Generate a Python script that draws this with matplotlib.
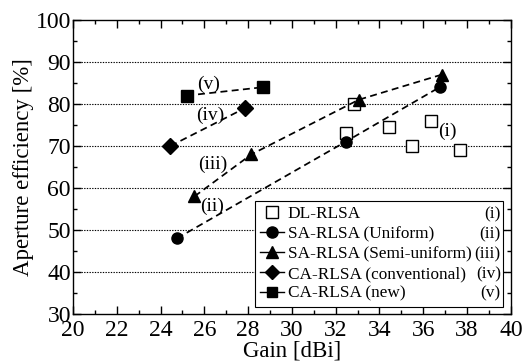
import matplotlib
matplotlib.use('Agg')
import matplotlib.pyplot as plt
from matplotlib.lines import Line2D
from matplotlib.ticker import MultipleLocator

plt.rcParams['font.family'] = ['Liberation Serif', 'DejaVu Serif']

# data
dl_gain = [32.45, 32.85, 34.45, 35.5, 36.35, 37.7]
dl_eff = [73, 80, 74.5, 70, 76, 69]
sau_gain = [24.75, 32.45, 36.75]
sau_eff = [48, 71, 84]
sas_gain = [25.55, 28.15, 33.05, 36.85]
sas_eff = [58, 68, 81, 87]
cac_gain = [24.45, 27.85]
cac_eff = [70, 79]
can_gain = [25.2, 28.7]
can_eff = [82, 84]

names = ['DL-RLSA', 'SA-RLSA (Uniform)', 'SA-RLSA (Semi-uniform)',
         'CA-RLSA (conventional)', 'CA-RLSA (new)']
numerals = ['(i)', '(ii)', '(iii)', '(iv)', '(v)']

fig = plt.figure(figsize=(5.25, 3.63), dpi=100)
ax = fig.add_axes([0.139, 0.135, 0.834, 0.81])

for y in range(40, 100, 10):
    ax.axhline(y, color='black', ls=(0, (1.2, 1.2)), lw=0.8, zorder=1)

dash = (0, (4, 2.5))
ax.plot(dl_gain, dl_eff, 's', ms=8, mfc='white', mec='black', mew=1.0, zorder=3)
ax.plot(sau_gain, sau_eff, ls=dash, color='black', lw=1.25, marker='o', ms=8, zorder=3)
ax.plot(sas_gain, sas_eff, ls=dash, color='black', lw=1.25, marker='^', ms=9, zorder=3)
ax.plot(cac_gain, cac_eff, ls=dash, color='black', lw=1.25, marker='D', ms=8, zorder=3)
ax.plot(can_gain, can_eff, ls=dash, color='black', lw=1.25, marker='s', ms=8, zorder=3)

# curve labels
ax.text(26.2, 84.6, '(v)', fontsize=14, ha='center', va='center')
ax.text(26.25, 77.4, '(iv)', fontsize=14, ha='center', va='center')
ax.text(26.4, 65.7, '(iii)', fontsize=14, ha='center', va='center')
ax.text(26.35, 55.7, '(ii)', fontsize=14, ha='center', va='center')
ax.text(37.1, 73.6, '(i)', fontsize=14, ha='center', va='center')

ax.set_xlim(20, 40)
ax.set_ylim(30, 100)
ax.xaxis.set_major_locator(MultipleLocator(2))
ax.xaxis.set_minor_locator(MultipleLocator(1))
ax.yaxis.set_major_locator(MultipleLocator(10))
ax.yaxis.set_minor_locator(MultipleLocator(5))
ax.tick_params(which='both', direction='in', top=True, right=True, labelsize=17, width=1.0)
ax.tick_params(which='major', length=6)
ax.tick_params(which='minor', length=3)
ax.tick_params(axis='x', pad=4)
ax.tick_params(axis='y', pad=1.5)
for s in ax.spines.values():
    s.set_linewidth(1.0)
ax.set_xlabel('Gain [dBi]', fontsize=16.5, labelpad=0)
ax.set_ylabel('Aperture efficiency [%]', fontsize=16.5, labelpad=1)

handles = [
    Line2D([], [], ls='none', marker='s', ms=8, mfc='white', mec='black'),
    Line2D([], [], color='black', lw=1.0, marker='o', ms=8),
    Line2D([], [], color='black', lw=1.0, marker='^', ms=8),
    Line2D([], [], color='black', lw=1.0, marker='D', ms=7),
    Line2D([], [], color='black', lw=1.0, marker='s', ms=7),
]
leg = ax.legend(handles, names, loc='lower left', bbox_to_anchor=(0.416, 0.024, 0.566, 0.374),
                mode='expand', fontsize=12.4, frameon=True, fancybox=False, edgecolor='black',
                framealpha=1, handlelength=1.4, handletextpad=0.2, borderpad=0.3,
                labelspacing=0.22, borderaxespad=0)
leg.get_frame().set_linewidth(0.8)
leg.set_zorder(5)

# numerals right-aligned in the legend rows
fig.canvas.draw()
inv = ax.transAxes.inverted()
for t, txt in zip(numerals, leg.get_texts()):
    bb = txt.get_window_extent()
    yy = inv.transform((0, (bb.y0 + bb.y1) / 2))[1]
    ax.text(0.977, yy, t, transform=ax.transAxes, fontsize=12.4, ha='right', va='center', zorder=6)

fig.savefig('out.png', dpi=100)
